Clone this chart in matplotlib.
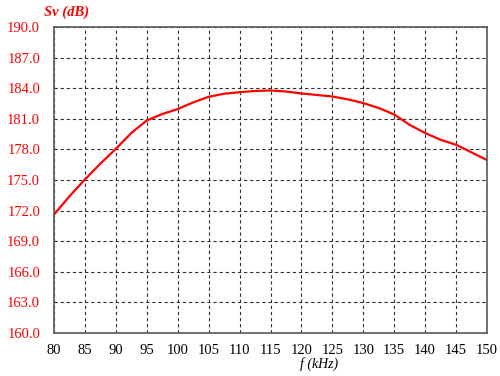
import matplotlib
matplotlib.use("Agg")
import matplotlib.pyplot as plt

# frequency (kHz) and source level Sv (dB)
freq = [80, 82.5, 85, 87.5, 90, 92.5, 95, 97.5, 100, 102.5, 105, 107.5, 110,
        112.5, 115, 117.5, 120, 122.5, 125, 127.5, 130, 132.5, 135, 137.5,
        140, 142.5, 145, 147.5, 150]
sv = [171.6, 173.4, 175.05, 176.6, 178.05, 179.6, 180.83, 181.46, 181.95, 182.6,
      183.15, 183.45, 183.6, 183.72, 183.77, 183.67, 183.48, 183.33, 183.18,
      182.9, 182.54, 182.05, 181.42, 180.4, 179.6, 178.94, 178.45, 177.7, 176.95]

x_ticks = list(range(80, 151, 5))
y_ticks = [160.0, 163.0, 166.0, 169.0, 172.0, 175.0, 178.0, 181.0, 184.0, 187.0, 190.0]

plt.rcParams['font.family'] = ['Liberation Serif', 'DejaVu Serif']

fig = plt.figure(figsize=(5.0, 3.76), dpi=100)
ax = fig.add_axes([0.108, 0.1144, 0.866, 0.814])

ax.plot(freq, sv, color='#ff0000', linewidth=1.6, solid_joinstyle='round')

ax.set_xlim(80, 150)
ax.set_ylim(160, 190)
ax.set_xticks(x_ticks)
ax.set_yticks(y_ticks)
ax.set_yticklabels([f"{v:.1f}" for v in y_ticks])
ax.tick_params(axis='both', length=0, labelsize=10.5)
ax.tick_params(axis='y', colors='#ff0000', pad=10)
ax.tick_params(axis='x', colors='black', pad=8)

ax.grid(True, color='#303030', linestyle=(0, (3, 2.5)), linewidth=0.8)
for s in ax.spines.values():
    s.set_color('#595959')
    s.set_linewidth(1.2)

fig.text(0.133, 0.968, 'Sv (dB)', color='#ff0000', fontsize=10.5,
         fontweight='bold', fontstyle='italic', ha='center', va='center')
fig.text(0.6, 0.032, 'f (kHz)', color='black', fontsize=10,
         fontstyle='italic', ha='left', va='center')

fig.savefig('out.png', dpi=100)
